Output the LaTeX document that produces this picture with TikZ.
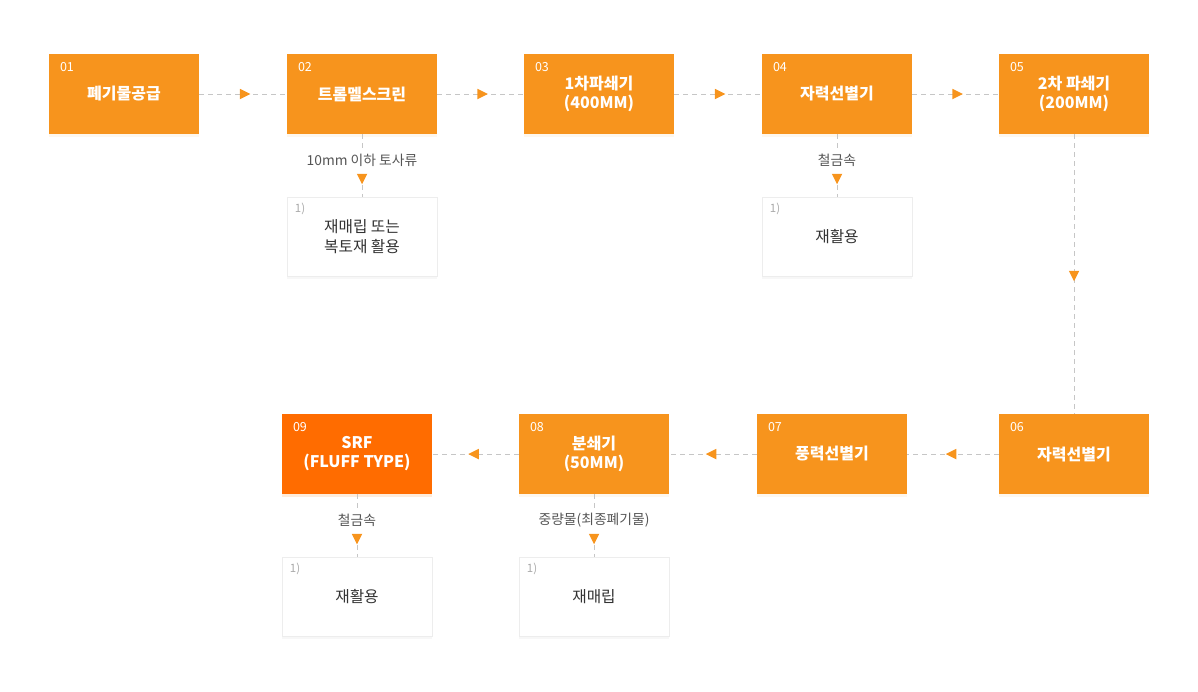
\documentclass[tikz,border=0pt]{standalone}
\usepackage{fontspec}
\setmainfont{Noto Sans CJK KR}
\usetikzlibrary{shapes.geometric,shadows}
\definecolor{orA}{HTML}{F7941D}
\definecolor{orB}{HTML}{FF6C00}
\definecolor{dashgray}{HTML}{C6C6C6}
\definecolor{lbl}{HTML}{555555}
\definecolor{numgray}{HTML}{AAAAAA}
\definecolor{txt}{HTML}{333333}
\begin{document}
\begin{tikzpicture}[x=1pt,y=-1pt,
  stepbox/.style={rectangle, minimum width=150pt, minimum height=80pt, inner sep=0pt,
    fill=orA, draw=none, text=white, align=center,
    font=\fontsize{16}{19}\selectfont\bfseries,
    drop shadow={shadow xshift=0pt, shadow yshift=-3pt, fill=orA, opacity=0.08}},
  srfbox/.style={stepbox, fill=orB, drop shadow={shadow xshift=0pt, shadow yshift=-3pt, fill=orB, opacity=0.08}},
  subbox/.style={rectangle, minimum width=150pt, minimum height=79pt, inner sep=0pt,
    fill=white, draw=black!7, line width=0.5pt, text=txt, align=center,
    font=\fontsize{15.7}{20}\selectfont,
    drop shadow={shadow xshift=0pt, shadow yshift=-2pt, fill=black, opacity=0.03}},
  numlbl/.style={anchor=west, inner sep=0pt, text=white, font=\fontsize{12.5}{13}\selectfont},
  sublbl/.style={anchor=west, inner sep=0pt, text=numgray, font=\fontsize{11.5}{12}\selectfont},
  brlbl/.style={inner sep=4pt, text=lbl, font=\fontsize{13.8}{15}\selectfont},
  dline/.style={draw=dashgray, line width=0.8pt, dash pattern=on 5pt off 4pt},
  tri/.style={isosceles triangle, isosceles triangle stretches, minimum width=10.5pt,
    minimum height=10.5pt, inner sep=0pt, fill=orA, draw=none},
  triR/.style={tri, shape border rotate=0},
  triL/.style={tri, shape border rotate=180},
  triD/.style={tri, shape border rotate=270}
]
\useasboundingbox (0,0) rectangle (1198,691);

% row 1
\node[stepbox] (b1) at (124,94) {폐기물공급};
\node[stepbox] (b2) at (362,94) {트롬멜스크린};
\node[stepbox] (b3) at (599,94) {1차파쇄기\\(400MM)};
\node[stepbox] (b4) at (837,94) {자력선별기};
\node[stepbox] (b5) at (1074,94) {2차 파쇄기\\(200MM)};
% row 2
\node[stepbox] (b6) at (1074,454) {자력선별기};
\node[stepbox] (b7) at (832,454) {풍력선별기};
\node[stepbox] (b8) at (594,454) {분쇄기\\(50MM)};
\node[srfbox] (b9) at (357,454) {SRF\\(FLUFF TYPE)};

% numbers
\node[numlbl] (n1) at ([xshift=11pt,yshift=-13pt]b1.north west) {01};
\node[numlbl] (n2) at ([xshift=11pt,yshift=-13pt]b2.north west) {02};
\node[numlbl] (n3) at ([xshift=11pt,yshift=-13pt]b3.north west) {03};
\node[numlbl] (n4) at ([xshift=11pt,yshift=-13pt]b4.north west) {04};
\node[numlbl] (n5) at ([xshift=11pt,yshift=-13pt]b5.north west) {05};
\node[numlbl] (n6) at ([xshift=11pt,yshift=-13pt]b6.north west) {06};
\node[numlbl] (n7) at ([xshift=11pt,yshift=-13pt]b7.north west) {07};
\node[numlbl] (n8) at ([xshift=11pt,yshift=-13pt]b8.north west) {08};
\node[numlbl] (n9) at ([xshift=11pt,yshift=-13pt]b9.north west) {09};

% sub boxes
\node[subbox] (s2) at (362,237) {재매립 또는\\복토재 활용};
\node[subbox] (s4) at (837,237) {재활용};
\node[subbox] (s9) at (357,597) {재활용};
\node[subbox] (s8) at (594,597) {재매립};
\node[sublbl] (m2) at ([xshift=8pt,yshift=-12pt]s2.north west) {1)};
\node[sublbl] (m4) at ([xshift=8pt,yshift=-12pt]s4.north west) {1)};
\node[sublbl] (m9) at ([xshift=8pt,yshift=-12pt]s9.north west) {1)};
\node[sublbl] (m8) at ([xshift=8pt,yshift=-12pt]s8.north west) {1)};

% branch labels and triangles
\node[brlbl] (l2) at (362,160) {10mm 이하 토사류};
\node[brlbl] (l4) at (837,160) {철금속};
\node[brlbl] (l9) at (357,520) {철금속};
\node[brlbl] (l8) at (594,520) {중량물(최종폐기물)};
\node[triD] (t2) at (362,177) {};
\node[triD] (t4) at (837,177) {};
\node[triD] (t9) at (357,537) {};
\node[triD] (t8) at (594,537) {};

\draw[dline] (b2) -- (l2);
\draw[dline] (t2) -- (s2);
\draw[dline] (b4) -- (l4);
\draw[dline] (t4) -- (s4);
\draw[dline] (b9) -- (l9);
\draw[dline] (t9) -- (s9);
\draw[dline] (b8) -- (l8);
\draw[dline] (t8) -- (s8);

% main flow
\draw[dline] (b1) -- (b2) node[triR, midway] (a12) {};
\draw[dline] (b2) -- (b3) node[triR, midway] (a23) {};
\draw[dline] (b3) -- (b4) node[triR, midway] (a34) {};
\draw[dline] (b4) -- (b5) node[triR, midway] (a45) {};
\draw[dline] (b5) -- (b6) node[triD, midway] (a56) {};
\draw[dline] (b6) -- (b7) node[triL, midway] (a67) {};
\draw[dline] (b7) -- (b8) node[triL, midway] (a78) {};
\draw[dline] (b8) -- (b9) node[triL, midway] (a89) {};
\end{tikzpicture}
\end{document}
